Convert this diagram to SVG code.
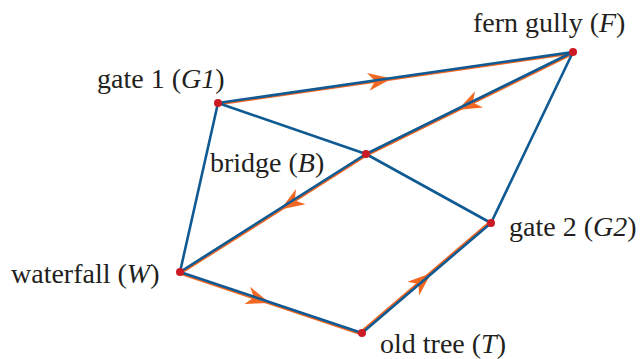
<svg xmlns="http://www.w3.org/2000/svg" width="640" height="359" viewBox="0 0 640 359">
<style>
text{font-family:"Liberation Serif","Times New Roman",serif;font-size:28px;fill:#231f20}
.i{font-style:italic}
.e{stroke:#0f5a93;stroke-width:2.6;fill:none;stroke-linecap:round}
.o{stroke:#f26722;stroke-width:2.4;fill:none}
.ah{fill:#f26722}
.n{fill:#cc1a24}
</style>
<defs>
<path id="arr" d="M0,0 Q-11,-4 -24,-9 L-17,0 L-24,9 Q-11,4 0,0 Z"/>
</defs>
<rect width="640" height="359" fill="#fff"/>
<g id="route">
<line class="o" x1="218" y1="104.3" x2="573" y2="53.3"/>
<line class="o" x1="573.9" y1="53.1" x2="366.9" y2="155.1"/>
<line class="o" x1="366.9" y1="155.1" x2="180.9" y2="273.1"/>
<line class="o" x1="179.6" y1="273.3" x2="361.6" y2="334.3"/>
<line class="o" x1="360.9" y1="331.9" x2="489.9" y2="221.9"/>
<use href="#arr" class="ah" transform="translate(392,78.5) rotate(-8.18)"/>
<use href="#arr" class="ah" transform="translate(457.5,110) rotate(153.76)"/>
<use href="#arr" class="ah" transform="translate(280.5,209.5) rotate(147.6)"/>
<use href="#arr" class="ah" transform="translate(270,303) rotate(18.5)"/>
<use href="#arr" class="ah" transform="translate(431.5,273) rotate(-40.45)"/>
</g>
<g id="edges">
<line class="e" x1="218" y1="103" x2="573" y2="52"/>
<line class="e" x1="218" y1="103" x2="366" y2="154"/>
<line class="e" x1="218" y1="103" x2="180" y2="272"/>
<line class="e" x1="573" y1="52" x2="366" y2="154"/>
<line class="e" x1="573" y1="52" x2="491" y2="223"/>
<line class="e" x1="366" y1="154" x2="180" y2="272"/>
<line class="e" x1="366" y1="154" x2="491" y2="223"/>
<line class="e" x1="180" y1="272" x2="362" y2="333"/>
<line class="e" x1="362" y1="333" x2="491" y2="223"/>
</g>
<g id="F"><circle class="n" cx="573" cy="52" r="4"/><text x="473" y="32">fern gully (<tspan class="i">F</tspan>)</text></g>
<g id="G1"><circle class="n" cx="218" cy="103" r="4"/><text x="97" y="88">gate 1 (<tspan class="i">G1</tspan>)</text></g>
<g id="B"><circle class="n" cx="366" cy="154" r="4"/><text x="210" y="172">bridge (<tspan class="i">B</tspan>)</text></g>
<g id="G2"><circle class="n" cx="491" cy="223" r="4"/><text x="509" y="236">gate 2 (<tspan class="i">G2</tspan>)</text></g>
<g id="W"><circle class="n" cx="180" cy="272" r="4"/><text x="11" y="283">waterfall (<tspan class="i">W</tspan>)</text></g>
<g id="T"><circle class="n" cx="362" cy="333" r="4"/><text x="380" y="353">old tree (<tspan class="i">T</tspan>)</text></g>
</svg>
